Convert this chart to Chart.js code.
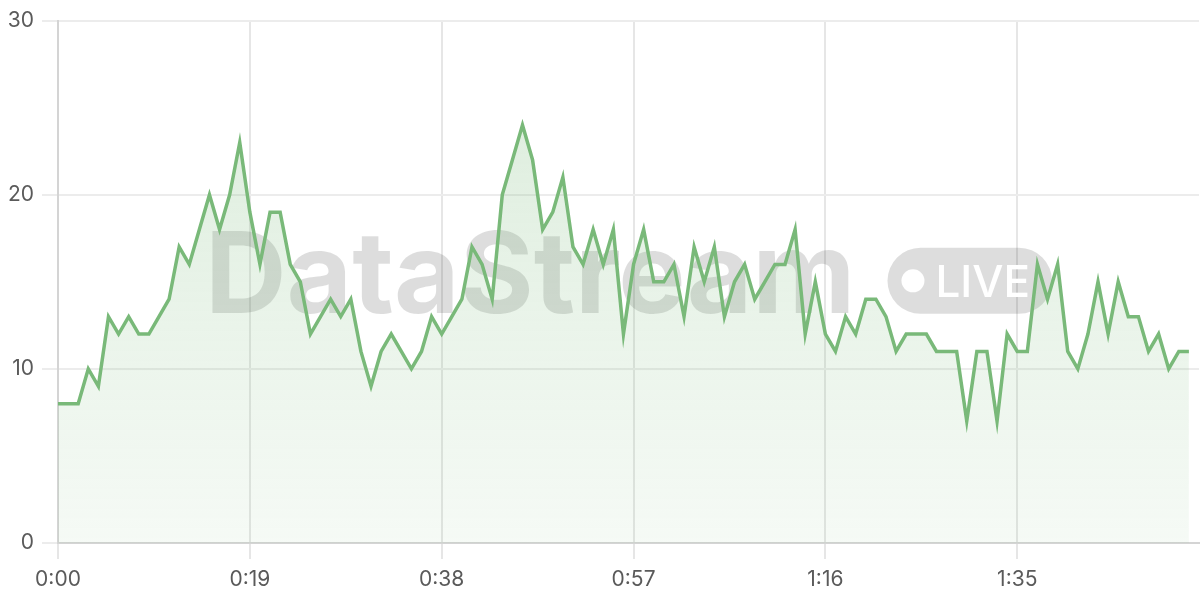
<!DOCTYPE html>
<html>
<head>
<meta charset="utf-8">
<script src="https://cdn.jsdelivr.net/npm/chart.js@4.4.1/dist/chart.umd.min.js"></script>
<style>
  html, body { margin: 0; padding: 0; background: #fff; }
  #wrap { width: 1200px; height: 600px; position: relative; }
</style>
</head>
<body>
<div id="wrap"><canvas id="liveChart"></canvas></div>
<script>
// valores (um ponto por segundo)
var viewers = [
  8, 8, 8, 10, 9, 13, 12, 13, 12, 12,
  13, 14, 17, 16, 18, 20, 18, 20, 23, 19,
  16, 19, 19, 16, 15, 12, 13, 14, 13, 14,
  11, 9, 11, 12, 11, 10, 11, 13, 12, 13,
  14, 17, 16, 14, 20, 22, 24, 22, 18, 19,
  21, 17, 16, 18, 16, 18, 12, 16, 18, 15,
  15, 16, 13, 17, 15, 17, 13, 15, 16, 14,
  15, 16, 16, 18, 12, 15, 12, 11, 13, 12,
  14, 14, 13, 11, 12, 12, 12, 11, 11, 11,
  7, 11, 11, 7, 12, 11, 11, 16, 14, 16,
  11, 10, 12, 15, 12, 15, 13, 13, 11, 12,
  10, 11, 11
];

// rotulos de tempo 0:00 ... 1:53
var timeLabels = [];
for (var s = 0; s < 114; s++) {
  var sec = s % 60;
  timeLabels.push(Math.floor(s / 60) + ':' + (sec < 10 ? '0' : '') + sec);
}
var labelEvery = 19;
var yTicks = [0, 10, 20, 30];

var lineColor = '#79b979';
var fontFamily = 'Inter, "Noto Sans", sans-serif';

// marca d'agua "DataStream LIVE" atras da linha
var watermark = {
  id: 'watermark',
  beforeDatasetsDraw: function (chart) {
    var ctx = chart.ctx;
    var a = chart.chartArea;
    var cx = (a.left + a.right) / 2;
    var cy = (a.top + a.bottom) / 2;
    ctx.save();
    ctx.font = '700 113px ' + fontFamily;
    var tw = ctx.measureText('DataStream').width;
    ctx.font = '500 44px ' + fontFamily;
    var lw = ctx.measureText('LIVE').width;
    var pillW = 14 + 23 + 11 + lw + 22;
    var total = tw + 32 + pillW;
    var x0 = cx - total / 2;

    ctx.fillStyle = 'rgba(0,0,0,0.135)';
    ctx.font = '700 113px ' + fontFamily;
    ctx.textBaseline = 'alphabetic';
    ctx.fillText('DataStream', x0, cy + 31);

    var px = x0 + tw + 32, py = cy - 34, ph = 66, r = 33;
    ctx.beginPath();
    ctx.moveTo(px + r, py);
    ctx.lineTo(px + pillW - r, py);
    ctx.arc(px + pillW - r, py + r, r, -Math.PI / 2, Math.PI / 2);
    ctx.lineTo(px + r, py + ph);
    ctx.arc(px + r, py + r, r, Math.PI / 2, Math.PI * 1.5);
    ctx.closePath();
    ctx.fill();

    ctx.fillStyle = '#ffffff';
    ctx.beginPath();
    ctx.arc(px + 14 + 11.5, cy - 1, 11.5, 0, Math.PI * 2);
    ctx.fill();
    ctx.font = '500 44px ' + fontFamily;
    ctx.fillText('LIVE', px + 14 + 23 + 11, cy + 15);
    ctx.restore();
  }
};

var ctx = document.getElementById('liveChart').getContext('2d');
var liveChart = new Chart(ctx, {
  type: 'line',
  data: {
    labels: timeLabels,
    datasets: [{
      data: viewers,
      borderColor: lineColor,
      borderWidth: 3.5,
      tension: 0,
      pointRadius: 0,
      fill: 'origin',
      backgroundColor: function (context) {
        var area = context.chart.chartArea;
        if (!area) return 'rgba(121,185,121,0.15)';
        var g = context.chart.ctx.createLinearGradient(0, area.top, 0, area.bottom);
        g.addColorStop(0, 'rgba(121,185,121,0.28)');
        g.addColorStop(1, 'rgba(121,185,121,0.07)');
        return g;
      }
    }]
  },
  options: {
    responsive: true,
    maintainAspectRatio: false,
    animation: false,
    layout: { padding: { top: 20, right: 1, bottom: 0, left: 0 } },
    plugins: {
      legend: { display: false },
      tooltip: { enabled: false }
    },
    scales: {
      x: {
        afterFit: function (scale) {
          scale.height = 57;
          scale.paddingLeft = 0;
          scale.paddingRight = 0;
        },
        border: { color: '#d4d4d4', width: 2 },
        grid: {
          color: function (c) { return c.index % labelEvery === 0 ? '#e6e6e6' : 'rgba(0,0,0,0)'; },
          tickLength: 16,
          lineWidth: 2
        },
        ticks: {
          autoSkip: false,
          maxRotation: 0,
          padding: 8,
          color: '#5a5a5a',
          font: { family: fontFamily, size: 21 },
          callback: function (val, i) { return i % labelEvery === 0 ? timeLabels[i] : ''; }
        }
      },
      y: {
        min: yTicks[0],
        max: yTicks[yTicks.length - 1],
        afterFit: function (scale) { scale.width = 58; },
        afterBuildTicks: function (scale) { scale.ticks = yTicks.map(function (v) { return { value: v }; }); },
        border: { color: '#d4d4d4', width: 2 },
        grid: { color: '#ececec', tickLength: 16, lineWidth: 2 },
        ticks: {
          padding: 8,
          color: '#5a5a5a',
          font: { family: fontFamily, size: 21 }
        }
      }
    }
  },
  plugins: [watermark]
});
</script>
</body>
</html>
